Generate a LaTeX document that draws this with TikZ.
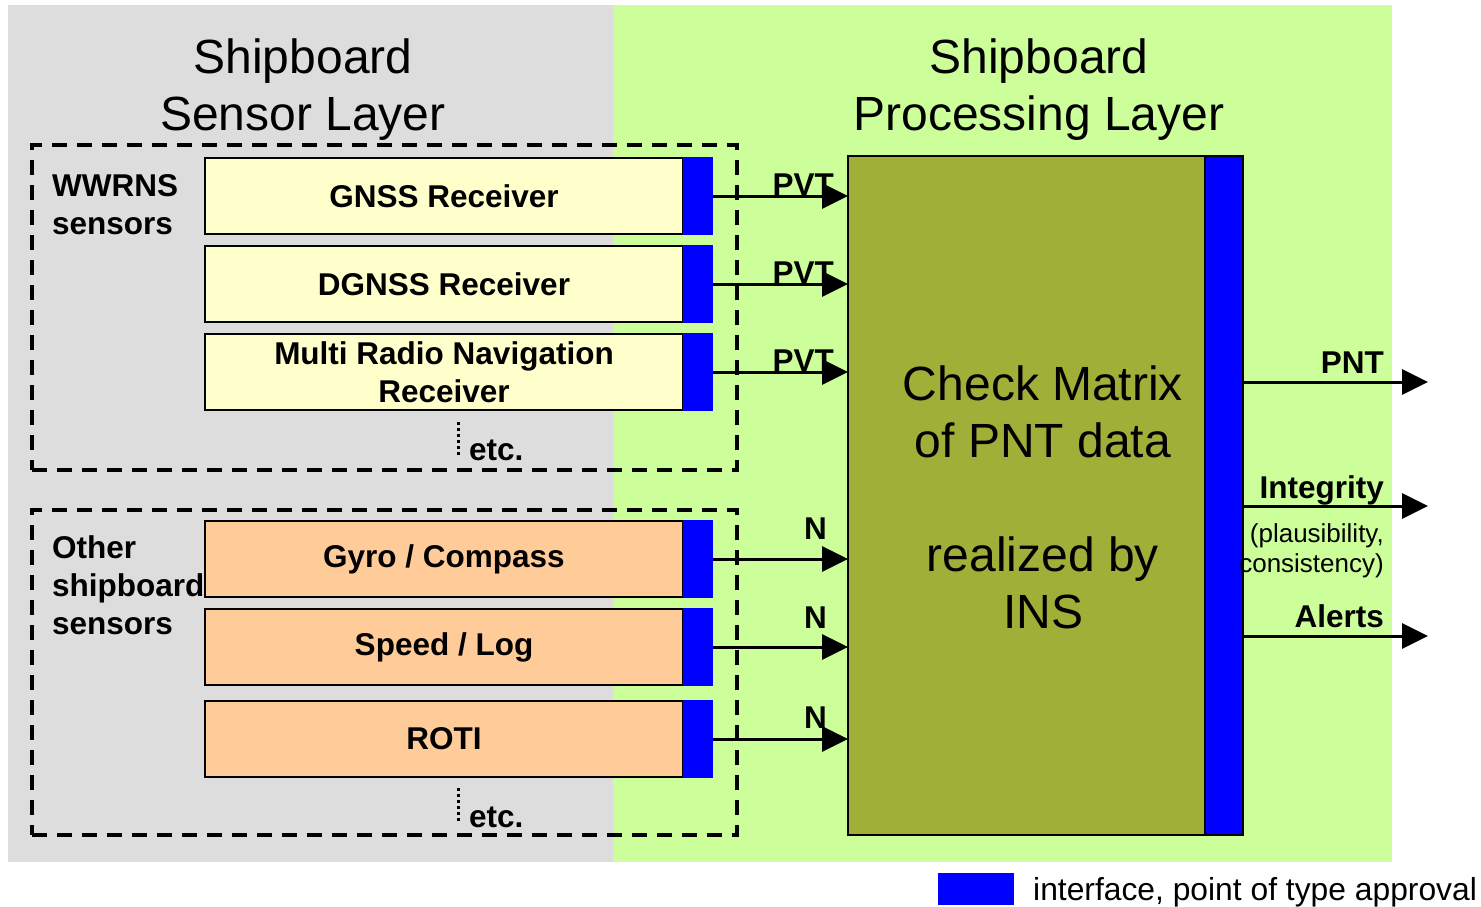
\documentclass[tikz,border=0pt]{standalone}
\usepackage{fontspec}
\setmainfont{Liberation Sans}
\usetikzlibrary{arrows.meta}

\definecolor{sensorgray}{HTML}{DDDDDD}
\definecolor{proclime}{HTML}{CCFF99}
\definecolor{wwyellow}{HTML}{FFFFCC}
\definecolor{shiporange}{HTML}{FFCC99}
\definecolor{ifblue}{HTML}{0000FF}
\definecolor{insolive}{RGB}{159,175,56}

\tikzset{
  layertitle/.style={font=\fontsize{48}{57}\selectfont, align=center, inner sep=0pt},
  grouplabel/.style={font=\bfseries\fontsize{31.5}{38}\selectfont, align=left, inner sep=0pt},
  groupbox/.style={draw, line width=3.5pt, dash pattern=on 15pt off 10pt, minimum width=705pt, minimum height=325pt, inner sep=0pt, outer sep=0pt},
  sensorbox/.style={draw, line width=1.8pt, minimum width=478pt, minimum height=76pt, inner sep=0pt, outer sep=0pt,
    font=\bfseries\fontsize{31.5}{37.5}\selectfont, align=center},
  wwbox/.style={sensorbox, fill=wwyellow},
  shipbox/.style={sensorbox, fill=shiporange},
  ifbox/.style={fill=ifblue, minimum width=30pt, minimum height=77.5pt, inner sep=0pt, outer sep=0pt},
  flow/.style={line width=3pt, -{Triangle[length=26pt,width=25pt]}},
  flowlabel/.style={font=\bfseries\fontsize{31.5}{37}\selectfont, inner sep=0pt},
  smalllabel/.style={font=\fontsize{26}{30}\selectfont, inner sep=0pt, align=right},
  etcdots/.style={line width=3pt, dash pattern=on 3pt off 3pt},
}

\begin{document}
\begin{tikzpicture}[x=1pt,y=-1pt]
\useasboundingbox (0,0) rectangle (1481,907);

% layer backgrounds
\fill[sensorgray] (8,5) rectangle (613,862);
\fill[proclime] (613,5) rectangle (1392,862);

% layer titles (anchored at the baseline of their last line)
\node[layertitle, anchor=base] (senstitle) at (303,130) {Shipboard\\Sensor Layer};
\node[layertitle, anchor=base] (proctitle) at (1039,130) {Shipboard\\Processing Layer};

% sensor groups
\node[groupbox] (wwrnsgroup) at (384.5,307.5) {};
\node[groupbox] (shipgroup) at (384.5,672.5) {};
\node[grouplabel, anchor=base west] (wwrnslabel) at (52,234) {WWRNS\\sensors};
\node[grouplabel, anchor=base west] (shiplabel) at (52,634) {Other\\shipboard\\sensors};

% sensors with their interfaces
\node[wwbox] (gnss) at (444,196) {GNSS Receiver};
\node[ifbox] (gnssIf) at (698,196) {};
\node[wwbox] (dgnss) at (444,284) {DGNSS Receiver};
\node[ifbox] (dgnssIf) at (698,284) {};
\node[wwbox] (mrnr) at (444,372) {Multi Radio Navigation\\Receiver};
\node[ifbox] (mrnrIf) at (698,372) {};
\node[shipbox] (gyro) at (444,559) {Gyro / Compass};
\node[ifbox] (gyroIf) at (698,559) {};
\node[shipbox] (speed) at (444,647) {Speed / Log};
\node[ifbox] (speedIf) at (698,647) {};
\node[shipbox] (roti) at (444,739) {ROTI};
\node[ifbox] (rotiIf) at (698,739) {};

% further sensors
\coordinate (etcA1) at (458,422);
\coordinate (etcA2) at (458,457);
\draw[etcdots] (etcA1) -- (etcA2);
\node[flowlabel, anchor=base west] (etcA) at (469,460) {etc.};
\coordinate (etcB1) at (458,788);
\coordinate (etcB2) at (458,823);
\draw[etcdots] (etcB1) -- (etcB2);
\node[flowlabel, anchor=base west] (etcB) at (469,827) {etc.};

% processing block
\node[draw, line width=2pt, fill=insolive, minimum width=357pt, minimum height=679pt, inner sep=0pt, outer sep=0pt] (core) at (1026.5,495.5) {};
\node[draw, line width=2pt, fill=ifblue, minimum width=38pt, minimum height=679pt, inner sep=0pt, outer sep=0pt] (coreIf) at (1224,495.5) {};
\node[layertitle, anchor=base] (coretext) at (1043,628) {Check Matrix\\of PNT data\\[57pt]realized by\\INS};

% sensor data flows
\draw[flow] (gnssIf.east) -- (gnssIf.east -| core.west);
\draw[flow] (dgnssIf.east) -- (dgnssIf.east -| core.west);
\draw[flow] (mrnrIf.east) -- (mrnrIf.east -| core.west);
\draw[flow] (gyroIf.east) -- (gyroIf.east -| core.west);
\draw[flow] (speedIf.east) -- (speedIf.east -| core.west);
\draw[flow] (rotiIf.east) -- (rotiIf.east -| core.west);
\node[flowlabel, anchor=base east] (pvt1) at (834,195) {PVT};
\node[flowlabel, anchor=base east] (pvt2) at (834,283) {PVT};
\node[flowlabel, anchor=base east] (pvt3) at (834,371) {PVT};
\node[flowlabel, anchor=base east] (n1) at (827,539) {N};
\node[flowlabel, anchor=base east] (n2) at (827,628) {N};
\node[flowlabel, anchor=base east] (n3) at (827,728) {N};

% outputs
\coordinate (pntEnd) at (1428,382);
\coordinate (integEnd) at (1428,506);
\coordinate (alertEnd) at (1428,636);
\draw[flow] (coreIf.east |- pntEnd) -- (pntEnd);
\draw[flow] (coreIf.east |- integEnd) -- (integEnd);
\draw[flow] (coreIf.east |- alertEnd) -- (alertEnd);
\node[flowlabel, anchor=base east] (pntlabel) at (1384,373) {PNT};
\node[flowlabel, anchor=base east] (integlabel) at (1384,498) {Integrity};
\node[smalllabel, anchor=base east] (integnote) at (1384,572) {(plausibility,\\consistency)};
\node[flowlabel, anchor=base east] (alertlabel) at (1384,627) {Alerts};

% legend
\node[fill=ifblue, minimum width=76pt, minimum height=32pt, inner sep=0pt] (legendkey) at (976,889) {};
\node[font=\fontsize{31.8}{37}\selectfont, inner sep=0pt, anchor=base west] (legendtext) at (1033,900) {interface, point of type approval};
\end{tikzpicture}
\end{document}
